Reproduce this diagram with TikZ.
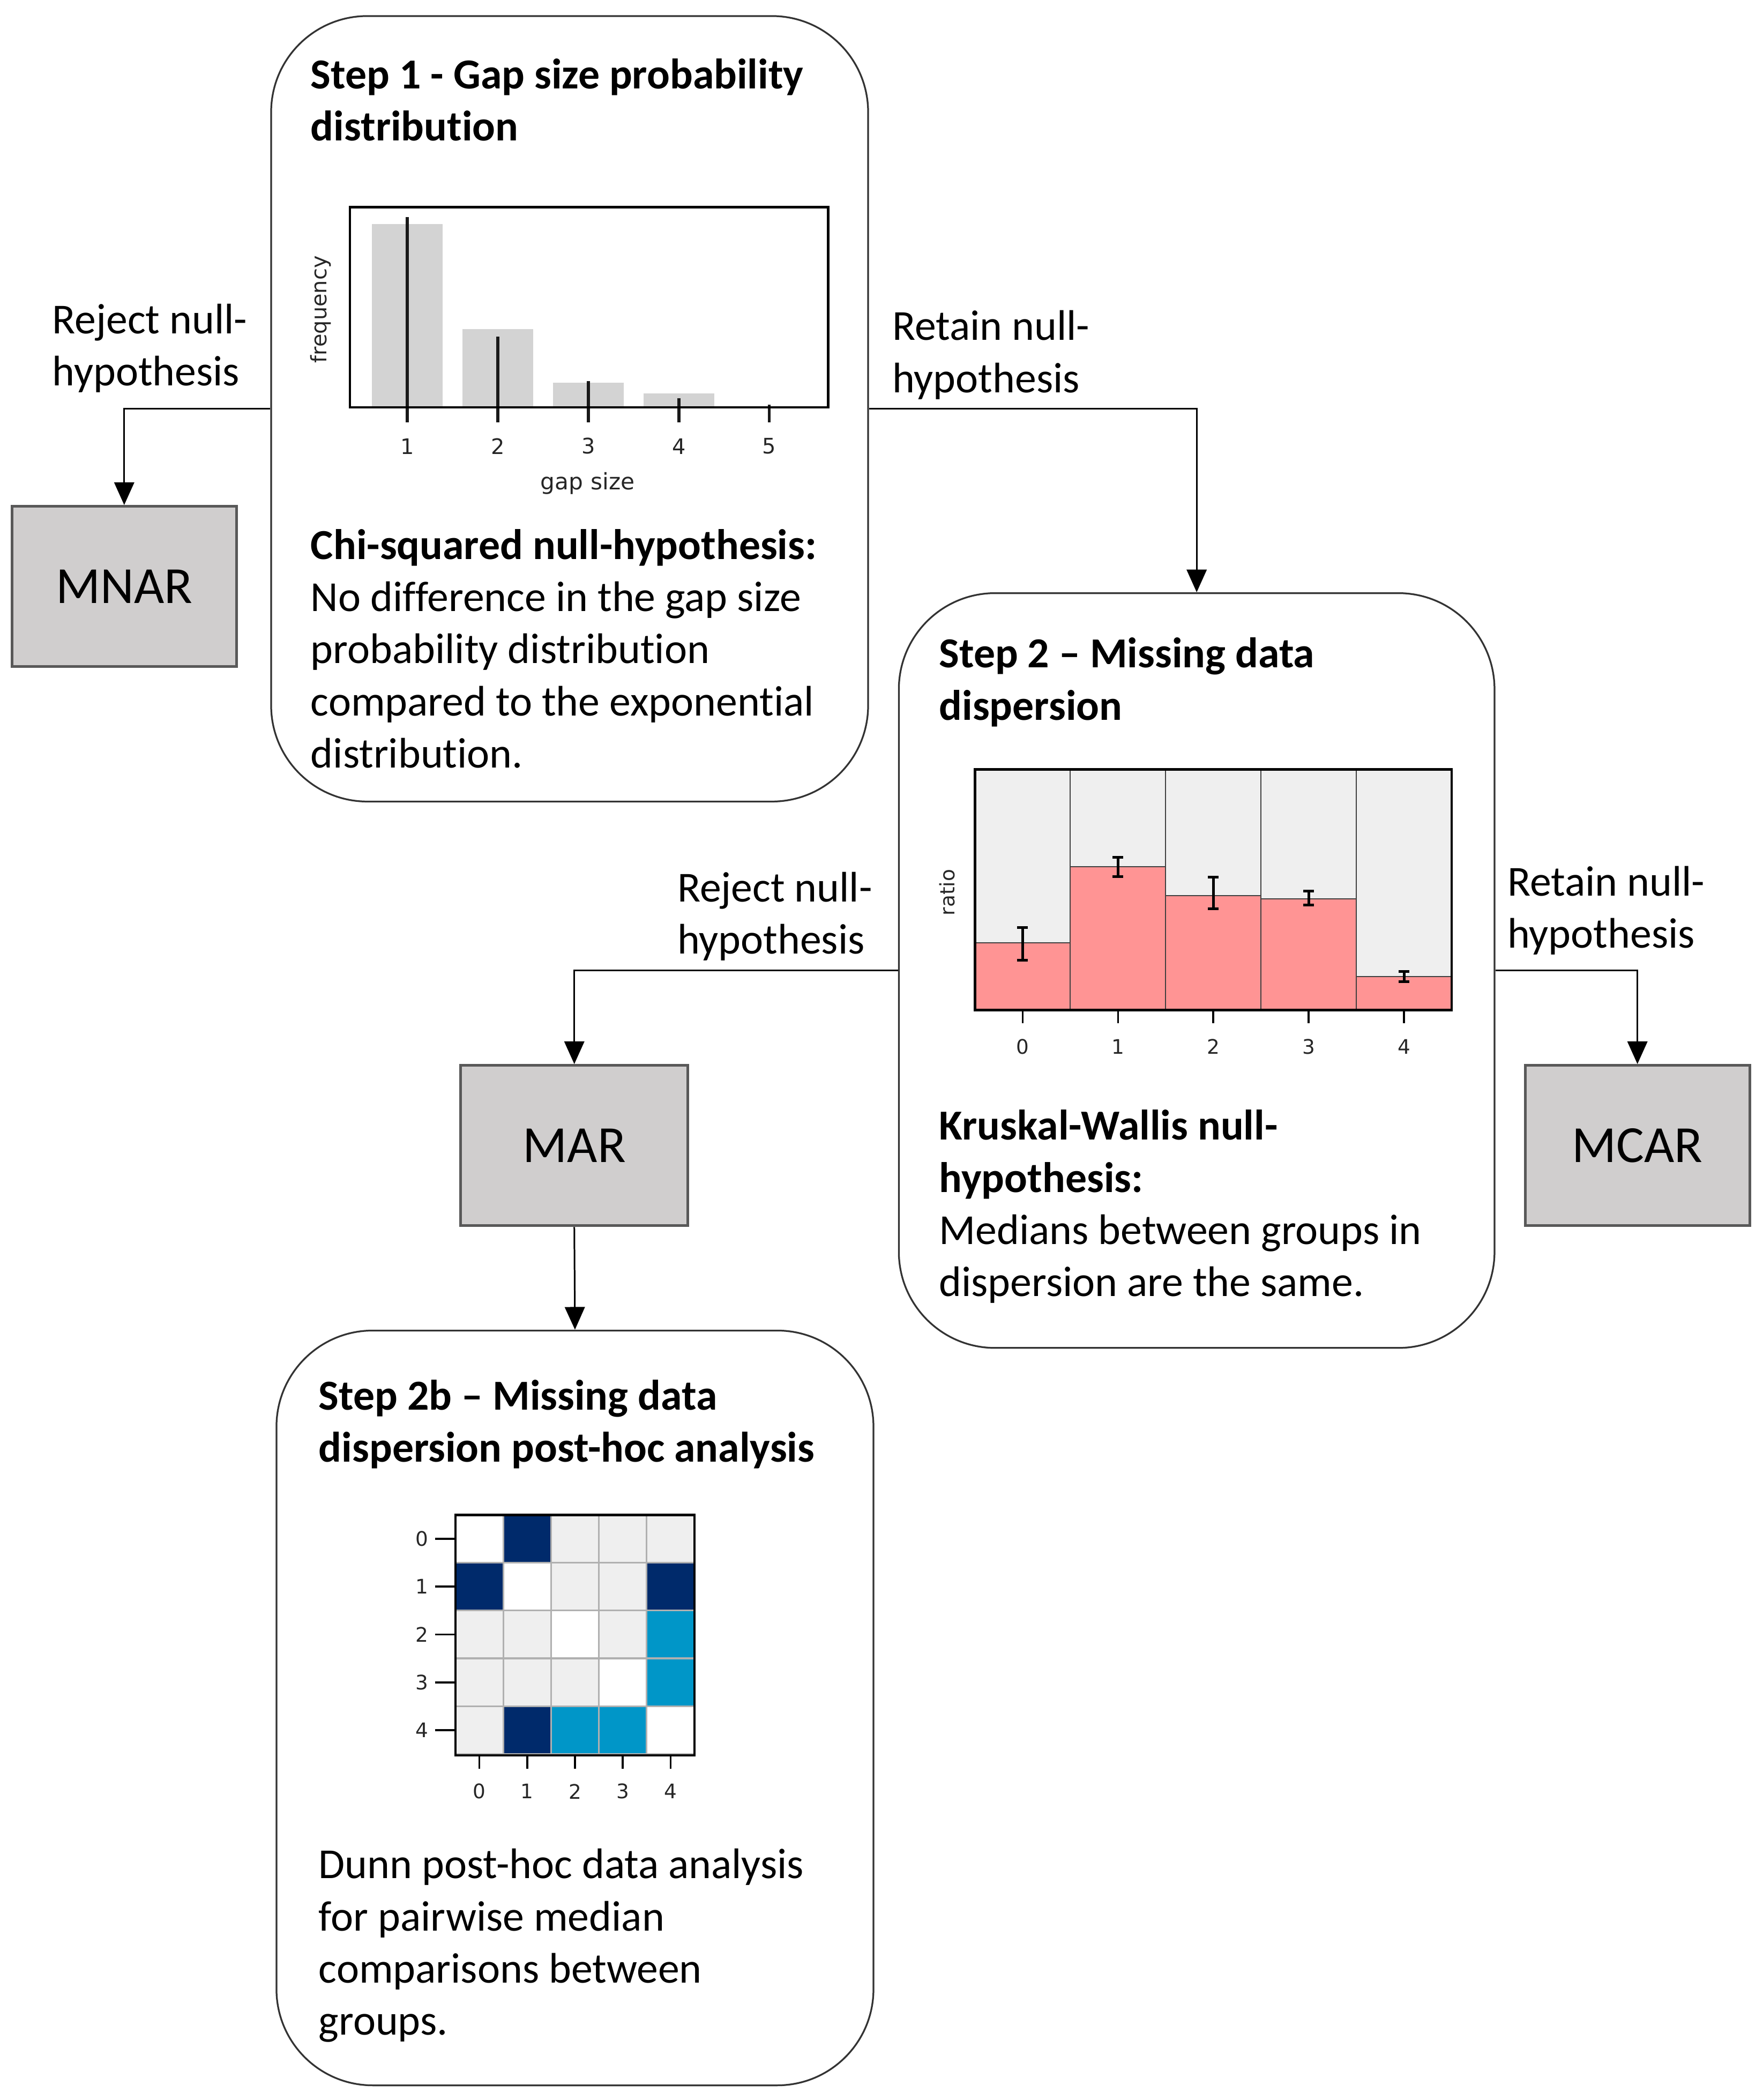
\documentclass[tikz,border=0pt]{standalone}
\usepackage{fontspec}
\setmainfont{Carlito}[Ligatures=NoCommon]
\newfontfamily\plotfont{DejaVu Sans}
\usetikzlibrary{positioning,arrows.meta,calc}

\definecolor{boxgray}{HTML}{D0CECE}
\definecolor{bargray}{HTML}{D3D3D3}
\definecolor{lightcell}{HTML}{EFEFEF}
\definecolor{barred}{HTML}{FF9494}
\definecolor{navy}{HTML}{002A6B}
\definecolor{midblue}{HTML}{0096C8}
\definecolor{gridgray}{HTML}{B0B0B0}

\begin{document}
\begin{tikzpicture}[x=1pt, y=-1pt,
    stepbox/.style={rectangle, draw=black!80, line width=1.3pt, rounded corners=72pt, minimum width=447pt, inner sep=0pt},
    result/.style={rectangle, draw=black!65, line width=2pt, fill=boxgray, minimum width=168pt, minimum height=120pt, font=\fontsize{39}{47}\selectfont},
    body/.style={anchor=west, align=left, inner sep=0pt, font=\fontsize{32}{39}\selectfont, execute at begin node=\strut, execute at end node=\strut},
    title/.style={body, font=\fontsize{32}{39}\selectfont\bfseries},
    ticklabel/.style={inner sep=0pt, text=black!85, font=\plotfont\fontsize{15}{18}\selectfont},
    arrow/.style={-{Triangle[length=17pt, width=15pt]}, line width=1.2pt}]

    \useasboundingbox (0,0) rectangle (1320,1572);

    % Step boxes
    \node[stepbox, minimum height=588pt] (step1) at (426.5,306) {};
    \node[stepbox, minimum height=565pt, minimum width=446pt] (step2) at (896,726.5) {};
    \node[stepbox, minimum height=565pt] (step2b) at (430.5,1278.5) {};

    % Outcomes
    \node[result] (mnar) at (93,439) {MNAR};
    \node[result, minimum width=170pt] (mar) at (430,857.5) {MAR};
    \node[result] (mcar) at (1226,857.5) {MCAR};

    % Step 1 text
    \node[title] (title1) at (232.5,80.5) {Step 1 - Gap size probability\\distribution};
    \node[body] (text1) at (232.5,491.3) {{\bfseries Chi-squared null-hypothesis:}\\No difference in the gap size\\probability distribution\\compared to the exponential\\distribution.};

    % Step 1 chart
    \foreach \x/\h/\l [count=\i] in {305/167.6/162.5, 372.75/246.2/252, 440.5/286.6/285.3, 508.25/294.3/298, 576/304/303} {
        \fill[bargray] (\x-26.5,\h) rectangle (\x+26.5,305);
        \draw[line width=2.2pt, black!90] (\x,\l) -- (\x,316);
        \node[ticklabel, font=\plotfont\fontsize{16}{19}\selectfont] (gx\i) at (\x,334) {\i};
    }
    \draw[line width=1.8pt] (262,155) rectangle (620,305);
    \node[ticklabel, font=\plotfont\fontsize{17}{20}\selectfont] (gaplabel) at (440,362) {gap size};
    \node[ticklabel, font=\plotfont\fontsize{16}{19}\selectfont, rotate=90] (freqlabel) at (240,231.6) {frequency};

    % Step 2 text
    \node[title] (title2) at (703,514) {Step 2 -- Missing data\\dispersion};
    \node[body] (text2) at (703,906.5) {{\bfseries Kruskal-Wallis null-}\\{\bfseries hypothesis:}\\Medians between groups in\\dispersion are the same.};

    % Step 2 chart
    \foreach \x/\t/\a/\b [count=\i from 0] in {730/705.8/694.2/718.9, 801.4/648.6/641.7/656, 872.8/670.5/656.7/680.4, 944.2/672.8/667/677.4, 1015.6/731/727.4/735} {
        \filldraw[fill=lightcell, draw=black!75, line width=0.8pt] (\x,576) rectangle (\x+71.4,756);
        \filldraw[fill=barred, draw=black!75, line width=0.8pt] (\x,\t) rectangle (\x+71.4,756);
        \draw[line width=2pt] (\x+35.7,\a) -- (\x+35.7,\b) (\x+31.7,\a) -- (\x+39.7,\a) (\x+31.7,\b) -- (\x+39.7,\b);
        \draw[line width=1.5pt] (\x+35.7,756) -- (\x+35.7,766);
        \node[ticklabel] (rx\i) at (\x+35.7,783.4) {\i};
    }
    \draw[line width=1.8pt] (730,576) rectangle (1087,756);
    \node[ticklabel, rotate=90] (ratiolabel) at (709,668) {ratio};

    % Step 2b text
    \node[title] (title2b) at (238.5,1069.5) {Step 2b -- Missing data\\dispersion post-hoc analysis};
    \node[body] (text2b) at (238.5,1459.5) {Dunn post-hoc data analysis\\for pairwise median\\comparisons between\\groups.};

    % Step 2b heatmap
    \foreach \row/\cells in {0/{white,navy,lightcell,lightcell,lightcell}, 1/{navy,white,lightcell,lightcell,navy}, 2/{lightcell,lightcell,white,lightcell,midblue}, 3/{lightcell,lightcell,lightcell,white,midblue}, 4/{lightcell,navy,midblue,midblue,white}} {
        \foreach \c [count=\col from 0] in \cells {
            \filldraw[fill=\c, draw=gridgray, line width=1.3pt] (341+35.8*\col,1134+35.8*\row) rectangle ++(35.8,35.8);
        }
    }
    \foreach \i in {0,...,4} {
        \draw[line width=1.5pt] (325.6,1151.9+35.8*\i) -- (341,1151.9+35.8*\i);
        \node[ticklabel, anchor=east] (hy\i) at (321,1151.9+35.8*\i) {\i};
        \draw[line width=1.5pt] (358.9+35.8*\i,1314) -- (358.9+35.8*\i,1324);
        \node[ticklabel] (hx\i) at (358.9+35.8*\i,1341) {\i};
    }
    \draw[line width=1.8pt] (341,1134) rectangle (520,1314);

    % Decision labels
    \node[body] (reject1) at (39,264) {Reject null-\\hypothesis};
    \node[body] (retain1) at (668,269) {Retain null-\\hypothesis};
    \node[body] (reject2) at (507,689.3) {Reject null-\\hypothesis};
    \node[body] (retain2) at (1128.6,684.7) {Retain null-\\hypothesis};

    % Connect with arrows
    \draw[arrow] (step1.west) -| (mnar.north);
    \draw[arrow] (step1.east) -| (step2.north);
    \draw[arrow] (step2.west) -| (mar.north);
    \draw[arrow] (step2.east) -| (mcar.north);
    \draw[arrow] (mar.south) -- (step2b.north);
\end{tikzpicture}
\end{document}
